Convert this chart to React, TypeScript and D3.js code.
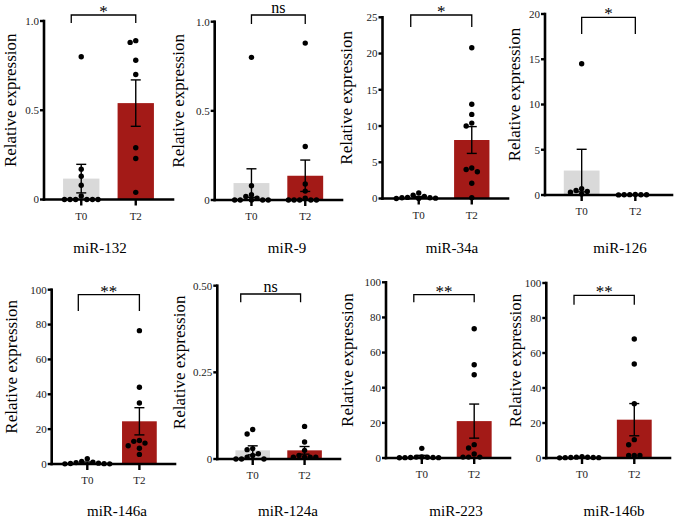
import React from 'react';
import * as d3 from 'd3';

// miRNA expression at T0 vs T2: bars are mean ± SEM, dots are individual samples
const genes = ['miR-132', 'miR-9', 'miR-34a', 'miR-126', 'miR-146a', 'miR-124a', 'miR-223', 'miR-146b'];
const groups = ['T0', 'T2'];
const significance = ['*', 'ns', '*', '*', '**', 'ns', '**', '**'];

const yMax = [1, 1, 25, 20, 100, 0.5, 100, 100];
const yTicks = [
  [0, 0.5, 1],
  [0, 0.5, 1],
  [0, 5, 10, 15, 20, 25],
  [0, 5, 10, 15, 20],
  [0, 20, 40, 60, 80, 100],
  [0, 0.25, 0.5],
  [0, 20, 40, 60, 80, 100],
  [0, 20, 40, 60, 80, 100],
];
const yTickLabels = [
  ['0', '0.5', '1.0'],
  ['0', '0.5', '1.0'],
  ['0', '5', '10', '15', '20', '25'],
  ['0', '5', '10', '15', '20'],
  ['0', '20', '40', '60', '80', '100'],
  ['0', '0.25', '0.50'],
  ['0', '20', '40', '60', '80', '100'],
  ['0', '20', '40', '60', '80', '100'],
];

const t0Mean = [0.117, 0.095, 0.2, 2.7, 0.8, 0.025, 0.9, 0.35];
const t0Sem = [0.08, 0.08, 0.08, 2.35, 0.35, 0.013, 0.6, 0.1];
const t2Mean = [0.54, 0.136, 8.07, 0.03, 24.5, 0.025, 21.0, 21.9];
const t2Sem = [0.13, 0.088, 1.85, 0.01, 7.8, 0.011, 9.7, 9.2];

const t0Points = [
  [0.8, 0.17, 0.13, 0.08, 0.02, 0, 0, 0, 0, 0, 0],
  [0.8, 0.08, 0.03, 0.02, 0.01, 0, 0, 0, 0, 0],
  [0.75, 0.45, 0.3, 0.15, 0.1, 0.1, 0.05, 0, 0],
  [14.5, 0.7, 0.5, 0.4, 0.3, 0.1],
  [3.0, 1.5, 1.0, 0.8, 0.5, 0.3, 0.2, 0.1, 0.1],
  [0.085, 0.072, 0.03, 0.027, 0.015, 0.01, 0.005, 0, 0, 0],
  [5.5, 0.6, 0.5, 0.4, 0.3, 0.3, 0.2, 0.2, 0.1],
  [0.8, 0.5, 0.4, 0.3, 0.3, 0.2, 0.2, 0.1],
];
const t2Points = [
  [0.89, 0.88, 0.78, 0.7, 0.29, 0.23, 0.04],
  [0.88, 0.3, 0.09, 0.05, 0.01, 0, 0, 0, 0, 0],
  [20.8, 13.0, 11.6, 10.4, 10.0, 4.2, 4.0, 3.7, 2.1, 0.1],
  [0.05, 0.04, 0.03, 0.02, 0.02, 0.01],
  [76.5, 44, 35, 13.5, 13, 12, 10.5, 9, 5.5],
  [0.094, 0.049, 0.025, 0.01, 0.005, 0.005, 0.005, 0.005],
  [73.6, 53.1, 47.4, 7.6, 5.7, 2.3, 0.5, 0.5, 0.5],
  [68, 53.7, 31, 10.5, 7.6, 1.5, 1.5, 1.5],
];

// frame of each small plot
const colX = [0, 168, 336, 504, 0, 168, 336, 504];
const axisLeft = [44, 214.7, 382.5, 545, 51.7, 217.3, 386, 546.3];
const axisRight = [173, 342, 508, 672, 175, 340, 510, 670];
const axisTop = [21, 21.7, 17.3, 14, 289.7, 285.7, 282.3, 283];
const axisZero = [199.5, 200, 198.5, 195, 464, 459, 458, 458];
const titleX = [100, 287, 452, 620, 117, 288, 456, 614];
const titleY = [253, 253, 253, 253, 516, 516, 516, 516];
const bracketTop = [15, 15, 15, 17.3, 294.7, 294, 294.7, 295.3];
const bracketFoot = [23, 24, 27, 34, 311, 302.3, 302.3, 304.7];
const bracketShiftL = [-10, 0, -8, 0, -9, -12, -8, -8];
const bracketShiftR = [0, 0, 0, 0, 0, -4, 0, 0];

const barColors = ['#d9d9d9', '#a31a17'];
const DOT_R = 2.7;
const SERIF = '"Liberation Serif", "DejaVu Serif", serif';

// simple column-scatter layout: nudge dots sideways until they stop overlapping
function swarm(values: number[], y: d3.ScaleLinear<number, number>, d: number) {
  const placed: { x: number; y: number }[] = [];
  return values.map((v) => {
    const py = y(v);
    for (let k = 0; k < 60; k++) {
      const dx = k === 0 ? 0 : (k % 2 ? -1 : 1) * Math.ceil(k / 2) * d;
      if (placed.every((p) => (p.x - dx) ** 2 + (p.y - py) ** 2 >= d * d * 0.9)) {
        placed.push({ x: dx, y: py });
        return { dx, py };
      }
    }
    return { dx: 0, py };
  });
}

function Panel({ i }: { i: number }) {
  const x = d3
    .scaleBand<string>()
    .domain(groups)
    .range([axisLeft[i], axisRight[i]])
    .paddingInner(1 / 3)
    .paddingOuter(0.35);
  const y = d3.scaleLinear().domain([0, yMax[i]]).range([axisZero[i], axisTop[i]]);
  const means = [t0Mean[i], t2Mean[i]];
  const sems = [t0Sem[i], t2Sem[i]];
  const pts = [t0Points[i], t2Points[i]];
  const bw = x.bandwidth();
  const cx = (g: string) => (x(g) as number) + bw / 2;

  const bx1 = cx('T0') + bracketShiftL[i];
  const bx2 = cx('T2') + bracketShiftR[i];
  const sig = significance[i];
  const isStar = sig.includes('*');
  const yMid = (axisTop[i] + axisZero[i]) / 2 - 10;
  const labelX = colX[i] + (i < 4 ? 15.5 : 16.5);

  return (
    <g>
      {/* bars */}
      {groups.map((g, k) => (
        <rect
          key={g}
          x={x(g)}
          y={y(means[k])}
          width={bw}
          height={y(0) - y(means[k])}
          fill={barColors[k]}
        />
      ))}
      {/* error bars */}
      {groups.map((g, k) => {
        const lo = y(Math.max(0, means[k] - sems[k]));
        const hi = y(means[k] + sems[k]);
        const c = cx(g);
        return (
          <g key={g} stroke="#000" strokeWidth={1.4}>
            <line x1={c} x2={c} y1={lo} y2={hi} />
            <line x1={c - 5} x2={c + 5} y1={hi} y2={hi} />
            <line x1={c - 5} x2={c + 5} y1={lo} y2={lo} />
          </g>
        );
      })}
      {/* individual samples */}
      {groups.map((g, k) =>
        swarm(pts[k], y, DOT_R * 2 + 0.2).map((p, j) => (
          <circle key={g + j} cx={cx(g) + p.dx} cy={p.py} r={DOT_R} fill="#000" />
        ))
      )}
      {/* axes */}
      <g stroke="#000" strokeWidth={2.6} strokeLinecap="square">
        <line x1={axisLeft[i]} x2={axisLeft[i]} y1={axisTop[i]} y2={axisZero[i]} />
        <line x1={axisLeft[i]} x2={axisRight[i]} y1={axisZero[i]} y2={axisZero[i]} />
      </g>
      {yTicks[i].map((t, k) => (
        <g key={t}>
          <line
            x1={axisLeft[i] - 4}
            x2={axisLeft[i]}
            y1={y(t)}
            y2={y(t)}
            stroke="#000"
            strokeWidth={2.4}
          />
          <text
            x={axisLeft[i] - 5}
            y={y(t)}
            dy="0.35em"
            textAnchor="end"
            fontSize={11}
            fill="#222"
          >
            {yTickLabels[i][k]}
          </text>
        </g>
      ))}
      {groups.map((g) => (
        <g key={g}>
          <line
            x1={cx(g)}
            x2={cx(g)}
            y1={axisZero[i]}
            y2={axisZero[i] + 6}
            stroke="#000"
            strokeWidth={2.4}
          />
          <text x={cx(g)} y={axisZero[i] + 20} textAnchor="middle" fontSize={11} fill="#222">
            {g}
          </text>
        </g>
      ))}
      {/* significance bracket */}
      <path
        d={`M${bx1},${bracketFoot[i]}V${bracketTop[i]}H${bx2}V${bracketFoot[i]}`}
        fill="none"
        stroke="#000"
        strokeWidth={1.3}
      />
      <text
        x={(bx1 + bx2) / 2}
        y={isStar ? bracketTop[i] + 2 : bracketTop[i] - 2.5}
        textAnchor="middle"
        fontSize={isStar ? 17 : 16}
        fill="#000"
      >
        {sig}
      </text>
      <text
        transform={`translate(${labelX},${yMid}) rotate(-90)`}
        textAnchor="middle"
        fontSize={17}
        fill="#000"
      >
        Relative expression
      </text>
      <text x={titleX[i]} y={titleY[i]} textAnchor="middle" fontSize={15} fill="#000">
        {genes[i]}
      </text>
    </g>
  );
}

const App = () => {
  return (
    <div style={{ position: 'absolute', left: 0, top: 0 }}>
      <svg
        width={676}
        height={519}
        style={{ display: 'block', background: '#fff', fontFamily: SERIF }}
      >
        {genes.map((g, i) => (
          <Panel key={g} i={i} />
        ))}
      </svg>
    </div>
  );
};

export default App;
